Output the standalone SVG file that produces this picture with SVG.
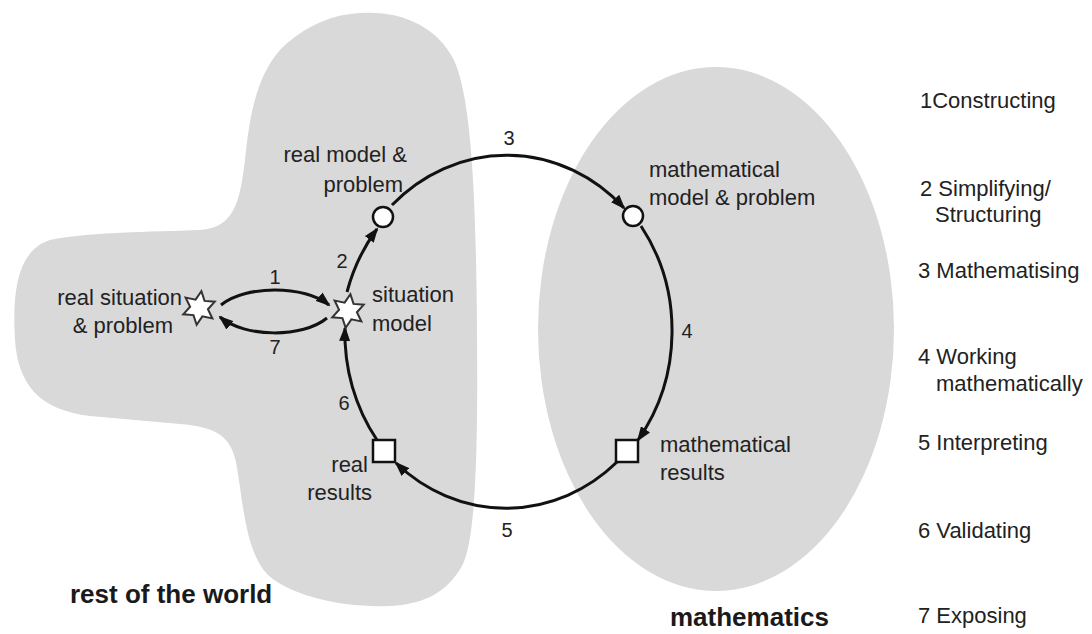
<svg xmlns="http://www.w3.org/2000/svg" width="1092" height="634" viewBox="0 0 1092 634">
  <style>
    .region { fill: #d9d9d9; stroke: none; }
    .lbl { font-family: "Liberation Sans", Arial, sans-serif; font-size: 22px; fill: #222; }
    .num { font-family: "Liberation Sans", Arial, sans-serif; font-size: 20px; fill: #222; text-anchor: middle; }
    .big { font-family: "Liberation Sans", Arial, sans-serif; font-size: 26px; font-weight: bold; fill: #1a1a1a; }
    .end { text-anchor: end; }
    .conn { fill: none; stroke: #111; stroke-width: 3; marker-end: url(#ah); }
    .node { fill: #fff; stroke: #111; stroke-width: 2.5; }
    .star { fill: #fff; stroke: #333; stroke-width: 2; stroke-linejoin: miter; }
  </style>
  <defs>
    <marker id="ah" viewBox="0 0 15 11" refX="13" refY="5.5" markerWidth="15" markerHeight="11" markerUnits="userSpaceOnUse" orient="auto">
      <path d="M0,0 L15,5.5 L0,11 z" fill="#111"/>
    </marker>
    <polygon id="starShape" points="0,-17 4.5,-7.8 14.7,-8.5 9,0 14.7,8.5 4.5,7.8 0,17 -4.5,7.8 -14.7,8.5 -9,0 -14.7,-8.5 -4.5,-7.8"/>
  </defs>

  <rect width="1092" height="634" fill="#fff"/>

  <g id="region-world">
    <path class="region" d="M 350 14 C 398 8, 436 25, 454 60 C 472 100, 476 200, 477 330 C 478 450, 476 540, 462 566 C 448 590, 428 604, 390 606 C 340 608, 290 595, 268 575 C 245 552, 243 500, 236 462 C 230 435, 215 427, 180 424 L 90 416 C 40 410, 18 385, 15 340 C 12 290, 18 250, 50 240 C 90 232, 150 232, 200 230 C 235 228, 240 200, 245 160 C 250 110, 258 75, 280 50 C 300 30, 325 17, 350 14 Z"/>
    <text class="big" x="70" y="603">rest of the world</text>
  </g>
  <g id="region-math">
    <ellipse class="region" cx="716" cy="329" rx="178" ry="262"/>
    <text class="big" x="670" y="626">mathematics</text>
  </g>

  <g id="connectors">
    <path id="c1" class="conn" d="M 221 305 C 245 285, 305 285, 329 305"/>
    <path id="c7" class="conn" d="M 327 318 C 303 338, 245 338, 220 317"/>
    <path id="c2" class="conn" d="M 347 292 A 166 180 0 0 1 377 229"/>
    <path id="c3" class="conn" d="M 392 205 A 166 180 0 0 1 624 208"/>
    <path id="c4" class="conn" d="M 641 226 A 166 180 0 0 1 638 440"/>
    <path id="c5" class="conn" d="M 617 462 A 166 180 0 0 1 396 463"/>
    <path id="c6" class="conn" d="M 377 440 A 166 180 0 0 1 345 328"/>
    <text class="num" x="275" y="284">1</text>
    <text class="num" x="342" y="268">2</text>
    <text class="num" x="509" y="145">3</text>
    <text class="num" x="687" y="338">4</text>
    <text class="num" x="507" y="537">5</text>
    <text class="num" x="344" y="410">6</text>
    <text class="num" x="275" y="354">7</text>
  </g>

  <g id="node-real-situation">
    <use href="#starShape" class="star" transform="translate(199,308) rotate(8)"/>
    <text class="lbl end" x="182" y="305">real situation</text>
    <text class="lbl end" x="173" y="333">&amp; problem</text>
  </g>
  <g id="node-situation-model">
    <use href="#starShape" class="star" transform="translate(348,311) rotate(8)"/>
    <text class="lbl" x="372" y="302">situation</text>
    <text class="lbl" x="372" y="331">model</text>
  </g>
  <g id="node-real-model">
    <circle class="node" cx="383" cy="217" r="10"/>
    <text class="lbl end" x="407" y="162">real model &amp;</text>
    <text class="lbl end" x="403" y="192">problem</text>
  </g>
  <g id="node-math-model">
    <circle class="node" cx="633" cy="216" r="10"/>
    <text class="lbl" x="649" y="177">mathematical</text>
    <text class="lbl" x="649" y="205">model &amp; problem</text>
  </g>
  <g id="node-math-results">
    <rect class="node" x="616" y="440" width="22" height="22"/>
    <text class="lbl" x="660" y="452">mathematical</text>
    <text class="lbl" x="660" y="480">results</text>
  </g>
  <g id="node-real-results">
    <rect class="node" x="373" y="440" width="22" height="22"/>
    <text class="lbl end" x="368" y="472">real</text>
    <text class="lbl end" x="372" y="500">results</text>
  </g>

  <g id="legend">
    <text class="lbl" x="920" y="108">1Constructing</text>
    <text class="lbl" x="920" y="196">2 Simplifying/</text>
    <text class="lbl" x="935" y="222">Structuring</text>
    <text class="lbl" x="918" y="278">3 Mathematising</text>
    <text class="lbl" x="918" y="364">4 Working</text>
    <text class="lbl" x="936" y="391">mathematically</text>
    <text class="lbl" x="918" y="450">5 Interpreting</text>
    <text class="lbl" x="918" y="538">6 Validating</text>
    <text class="lbl" x="918" y="623">7 Exposing</text>
  </g>
</svg>
